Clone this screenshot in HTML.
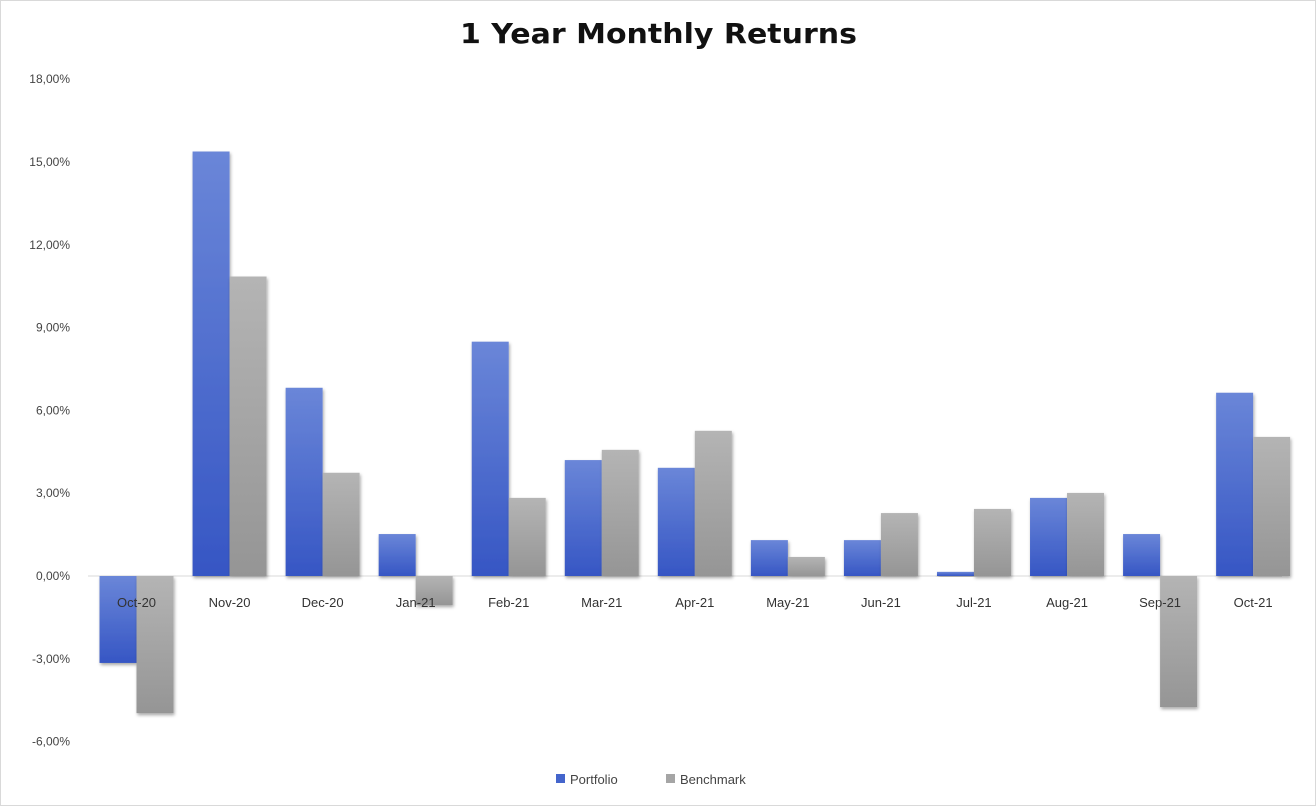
<!DOCTYPE html>
<html><head><meta charset="utf-8"><style>
body{margin:0;background:#fff;font-family:"Liberation Sans",sans-serif}
svg{display:block}
</style></head><body>
<svg id="chart" width="1316" height="806">
<defs>
<linearGradient id="gb" x1="0" y1="0" x2="0" y2="1"><stop offset="0" stop-color="#6a86d8"/><stop offset="1" stop-color="#3656c4"/></linearGradient>
<linearGradient id="gg" x1="0" y1="0" x2="0" y2="1"><stop offset="0" stop-color="#b4b4b4"/><stop offset="1" stop-color="#959595"/></linearGradient>
<filter id="sh" x="-20%" y="-20%" width="140%" height="140%"><feDropShadow dx="1" dy="2" stdDeviation="1.5" flood-color="#000" flood-opacity="0.35"/></filter>
</defs>
<rect x="0.5" y="0.5" width="1315" height="805" fill="#fff" stroke="#d9d9d9"/>
<text x="460" y="43" textLength="397" lengthAdjust="spacingAndGlyphs" font-family="DejaVu Sans, sans-serif" font-size="28" font-weight="bold" fill="#111">1 Year Monthly Returns</text>
<g id="yaxis"></g><g id="bars"></g><g id="xlabels"></g>
<g>
<rect x="556" y="774" width="9" height="9" fill="#4465cc"/>
<text x="570" y="784" font-size="13" fill="#444">Portfolio</text>
<rect x="666" y="774" width="9" height="9" fill="#a5a5a5"/>
<text x="680" y="784" font-size="13" fill="#444">Benchmark</text>
</g>
</svg>
<script>
const categories=["Oct-20","Nov-20","Dec-20","Jan-21","Feb-21","Mar-21","Apr-21","May-21","Jun-21","Jul-21","Aug-21","Sep-21","Oct-21"];
const portfolio=[-3.15,15.38,6.82,1.52,8.49,4.2,3.92,1.3,1.3,0.15,2.83,1.52,6.64];
const benchmark=[-4.97,10.85,3.74,-1.05,2.83,4.57,5.26,0.69,2.28,2.43,3.01,-4.75,5.04];
const ticks=[18,15,12,9,6,3,0,-3,-6];
const NS="http://www.w3.org/2000/svg";
const y=v=>576-v*27.6;
const x0=90,cw=93.05,bw=37;
function mk(t,a,p){const e=document.createElementNS(NS,t);for(const k in a)e.setAttribute(k,a[k]);p.appendChild(e);return e;}
const ya=document.getElementById('yaxis'),bars=document.getElementById('bars'),xl=document.getElementById('xlabels');
ticks.forEach(t=>{const e=mk('text',{x:70,y:y(t)+4,'text-anchor':'end','font-size':12,fill:'#444'},ya);e.textContent=t.toFixed(2).replace('.',',')+'%';

});
const ax=mk('line',{x1:88,x2:1282,y1:y(0),y2:y(0),stroke:'#d9d9d9','stroke-width':1},ya);


categories.forEach((c,i)=>{
 const cx=x0+cw*i+cw/2;
 [[portfolio[i],'url(#gb)',cx-bw,'portfolio'],[benchmark[i],'url(#gg)',cx,'benchmark']].forEach(([v,f,bx,n])=>{
  const r=mk('rect',{x:bx,y:Math.min(y(v),y(0)),width:bw,height:Math.abs(y(v)-y(0)),fill:f,filter:'url(#sh)'},bars);
  
  
 });
 const t=mk('text',{x:cx,y:607,'text-anchor':'middle','font-size':13,fill:'#333'},xl);t.textContent=c;
 
 
});
</script>
</body></html>
